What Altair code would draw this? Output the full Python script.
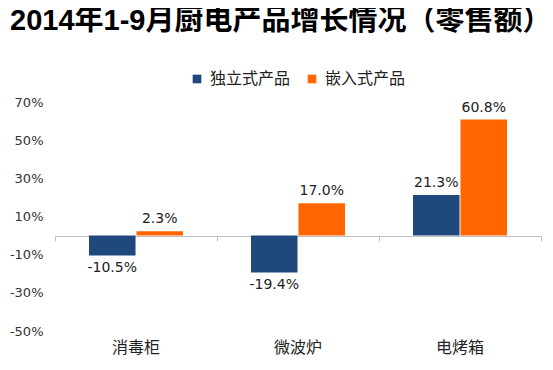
import altair as alt
import pandas as pd

categories = ["消毒柜", "微波炉", "电烤箱"]
series = ["独立式产品", "嵌入式产品"]
standalone = [-10.5, -19.4, 21.3]
built_in = [2.3, 17.0, 60.8]
colors = ["#1F497D", "#FF6600"]
y_ticks = [-0.5, -0.3, -0.1, 0.1, 0.3, 0.5, 0.7]

rows = []
for i, c in enumerate(categories):
    rows.append({"cat": c, "series": series[0], "v": standalone[i] / 100})
    rows.append({"cat": c, "series": series[1], "v": built_in[i] / 100})
df = pd.DataFrame(rows)

CJK = "Noto Sans CJK SC"
NUM = "DejaVu Sans"

x_main = alt.X("cat:N", sort=categories, title=None,
               scale=alt.Scale(paddingInner=0, paddingOuter=0),
               axis=alt.Axis(orient="bottom", domain=False, ticks=False, labelAngle=0,
                             labelFont=CJK, labelFontSize=16, labelColor="#222",
                             labelPadding=8))
y_axis = alt.Axis(values=y_ticks, domain=False, ticks=False,
                  labelExpr="replace(format(datum.value, '.0%'), '\u2212', '-')",
                  labelOverlap=False, labelBound=False,
                  grid=False, labelFont=NUM, labelFontSize=13,
                  labelColor="#333", labelPadding=12)
y_enc = alt.Y("v:Q", title=None,
              scale=alt.Scale(domain=[-0.5, 0.7], nice=False, zero=False),
              axis=y_axis)
xoff = alt.XOffset("series:N", sort=series,
                   scale=alt.Scale(paddingInner=0.02, paddingOuter=0.716))
color = alt.Color("series:N", sort=series,
                  scale=alt.Scale(domain=series, range=colors),
                  legend=alt.Legend(title=None, orient="none", legendX=134, legendY=-31,
                                    direction="horizontal", symbolType="square",
                                    symbolSize=75, symbolStrokeWidth=0,
                                    labelFont=CJK, labelFontSize=16, labelColor="#222",
                                    columnPadding=13, labelOffset=5))

bars = alt.Chart(df).mark_bar().encode(x=x_main, y=y_enc, xOffset=xoff, color=color)

lbl_base = alt.Chart(df).transform_calculate(
    lbl="replace(format(datum.v, '.1%'), '\u2212', '-')"
)
x_plain = alt.X("cat:N", sort=categories, axis=None)
pos_lbl = lbl_base.transform_filter("datum.v >= 0").mark_text(
    baseline="bottom", dy=-5, font=NUM, fontSize=14, color="#222"
).encode(x=x_plain, xOffset=xoff, y=y_enc, text="lbl:N")
neg_lbl = lbl_base.transform_filter("datum.v < 0").mark_text(
    baseline="top", dy=5, font=NUM, fontSize=14, color="#222"
).encode(x=x_plain, xOffset=xoff, y=y_enc, text="lbl:N")

zero_axis = alt.Chart(df).mark_rule(opacity=0).encode(
    x=alt.X("cat:N", sort=categories, title=None,
            axis=alt.Axis(orient="bottom", offset=-95, labels=False, domain=True,
                          domainColor="#BFBFBF", tickColor="#BFBFBF", tickSize=5,
                          tickBand="extent", domainWidth=1.2, title=None)),
    y=alt.Y(datum=0, axis=y_axis, title=None))

chart = alt.layer(bars, pos_lbl, neg_lbl, zero_axis).resolve_axis(x="independent").properties(
    width=486, height=229,
    autosize=alt.AutoSizeParams(type="none"),
    padding={"left": 47, "top": 94, "right": 4, "bottom": 31},
    background="white",
    title=alt.TitleParams("2014年1-9月厨电产品增长情况（零售额）", anchor="start",
                          frame="group", dx=-45, offset=35,
                          font="Liberation Sans, Noto Sans CJK SC", fontSize=29,
                          fontWeight="bold", color="#000"),
).configure_view(stroke=None)

chart.save("out.html", embed_options={"renderer": "svg", "actions": False})
